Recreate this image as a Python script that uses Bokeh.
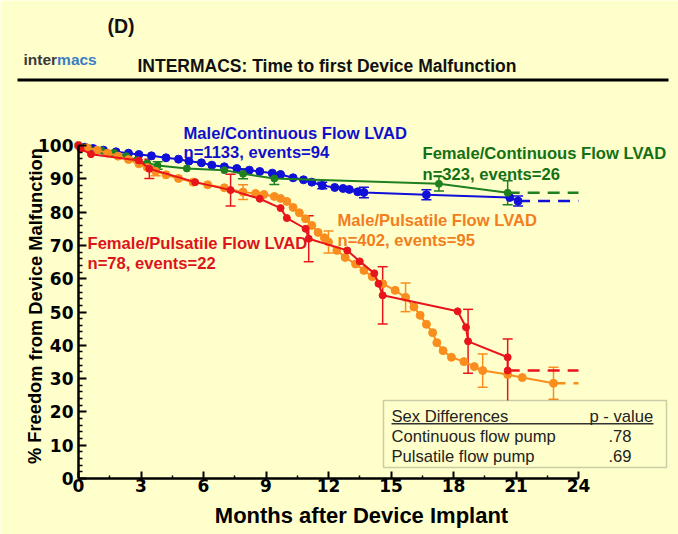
from bokeh.plotting import figure
from bokeh.models import (Range1d, FixedTicker, Label, BoxAnnotation, Whisker,
                          TeeHead, ColumnDataSource)
from bokeh.embed import file_html
from bokeh.resources import INLINE

# ---------------- data ----------------
MONTH_TICKS = [0, 3, 6, 9, 12, 15, 18, 21, 24]
MONTH_MINOR = [1.5, 4.5, 7.5, 10.5, 13.5, 16.5, 19.5, 22.5]
PCT_TICKS = [0, 10, 20, 30, 40, 50, 60, 70, 80, 90, 100]
PCT_MINOR = [v for v in range(0, 101, 2) if v % 10 != 0]

# Male / Continuous Flow LVAD
mc_x = [0, 0.3, 0.7, 1.2, 1.8, 2.4, 2.9, 3.5, 4.2, 4.8, 5.3, 5.9, 6.4, 7.0, 7.6,
        8.2, 8.7, 9.3, 9.7, 10.3, 10.8, 11.2, 11.7, 12.3, 12.7, 13.0, 13.4, 13.7,
        16.7, 20.7, 21.1]
mc_y = [100, 99.5, 99.1, 98.6, 98.1, 97.7, 97.3, 96.9, 96.3, 95.9, 95.3, 94.8, 94.1,
        93.6, 93.1, 92.6, 92.2, 91.7, 91.3, 90.3, 89.7, 89.0, 88.0, 87.4, 87.1, 86.8,
        86.1, 85.9, 85.2, 84.4, 83.3]
mc_err_x = [11.7, 13.7, 16.7, 21.1]
mc_err_y = [88.0, 85.9, 85.2, 83.3]
mc_err_h = [1.0, 1.6, 1.5, 1.5]

# Female / Continuous Flow LVAD
fc_x = [0, 0.5, 1.1, 1.7, 2.3, 2.8, 3.3, 3.8, 5.2, 7.0, 7.9, 9.4, 17.3, 20.6]
fc_y = [100, 99.2, 98.5, 97.8, 96.8, 95.6, 94.7, 94.0, 93.1, 92.6, 91.5, 90.1, 88.5, 85.8]
fc_err_x = [3.8, 7.9, 9.4, 17.3, 20.6]
fc_err_y = [94.0, 91.5, 90.1, 88.5, 85.8]
fc_err_h = [1.1, 1.5, 1.8, 2.2, 3.6]

# Male / Pulsatile Flow LVAD
mp_x = [0, 0.4, 0.9, 1.4, 1.9, 2.4, 2.9, 3.3, 3.7, 4.2, 4.8, 5.5, 6.2, 7.0, 7.9, 8.5,
        8.9, 9.4, 9.7, 10.0, 10.3, 10.6, 10.9, 11.2, 11.5, 11.8, 12.0, 12.4, 12.8,
        13.3, 13.7, 14.1, 14.6, 15.2, 15.7, 16.1, 16.4, 16.7, 17.0, 17.2, 17.5, 17.9,
        18.5, 19.0, 19.4, 20.6, 21.3, 22.8]
mp_y = [100, 99.3, 98.6, 97.7, 96.8, 95.8, 94.5, 93.4, 92.3, 91.2, 90.1, 89.0, 88.2,
        87.3, 86.0, 85.6, 85.3, 84.7, 84.1, 83.2, 81.4, 79.8, 78.0, 76.0, 73.9, 72.3,
        71.0, 68.5, 66.4, 64.4, 62.5, 60.6, 58.5, 56.5, 54.4, 51.5, 49.0, 46.3, 43.8,
        40.8, 38.4, 36.4, 35.1, 33.6, 32.4, 31.2, 30.3, 28.6]
mp_err_x = [3.7, 7.9, 12.0, 15.7, 19.4, 22.8]
mp_err_y = [92.3, 86.0, 71.0, 54.4, 32.4, 28.6]
mp_err_h = [1.4, 2.2, 3.3, 4.3, 5.0, 4.8]

# Female / Pulsatile Flow LVAD
fp_x = [0, 0.1, 0.6, 2.9, 3.4, 5.6, 7.3, 8.7, 9.7, 10.0, 10.9, 11.05, 12.9, 13.5,
        14.2, 14.4, 14.6, 18.2, 18.6, 18.7, 20.6, 20.6]
fp_y = [100, 99.0, 97.4, 95.5, 93.0, 89.0, 86.6, 84.0, 81.2, 78.2, 75.0, 72.0, 68.5,
        65.2, 61.6, 58.5, 55.0, 50.2, 45.4, 41.2, 36.4, 32.4]
fp_err_x = [3.4, 7.3, 11.05, 14.6, 18.7, 20.6]
fp_err_y = [93.0, 86.6, 72.0, 55.0, 41.2, 32.4]
fp_err_h = [2.9, 4.8, 6.9, 8.6, 9.6, 9.5]

FOLLOW_UP_END = 24

SERIES_NAMES = ["Male/Continuous Flow LVAD", "Female/Continuous Flow LVAD",
                "Male/Pulsatile Flow LVAD", "Female/Pulsatile Flow LVAD"]
SERIES_COUNTS = ["n=1133, events=94", "n=323, events=26",
                 "n=402, events=95", "n=78, events=22"]

TABLE_HEADER = ["Sex Differences", "p - value"]
TABLE_ROWS = [("Continuous flow pump", ".78"), ("Pulsatile flow pump", ".69")]

# ---------------- styling ----------------
BG = "#FFFFCC"
BLUE, GREEN, ORANGE, RED = "#1010d8", "#1f801f", "#f98e1e", "#e8141c"
LBL_BLUE, LBL_GREEN, LBL_ORANGE, LBL_RED = "#1010cc", "#137013", "#f27e1e", "#dc141c"
FONT = "Liberation Sans"

W, H = 678, 534
PX_PER_MONTH = 500 / 24
PX_PER_PCT = 3.33
AX_X0, AX_Y0 = 78, 478      # pixel position of month 0 / 0 %
SHIFT = 5                   # svg baseline compensation


def dx(px):
    return (px - AX_X0) / PX_PER_MONTH


def dy(py):
    return (AX_Y0 - py) / PX_PER_PCT


p = figure(width=W, height=H, output_backend="svg", toolbar_location=None,
           x_range=Range1d(dx(0), dx(W)), y_range=Range1d(dy(H), dy(0)),
           min_border_left=0, min_border_right=0, min_border_top=0,
           min_border_bottom=0)
p.background_fill_color = BG
p.border_fill_color = BG
p.outline_line_color = None
p.xgrid.visible = False
p.ygrid.visible = False

for ax, ticks, minor, bnds in ((p.xaxis[0], MONTH_TICKS, MONTH_MINOR, (0, 24)),
                               (p.yaxis[0], PCT_TICKS, PCT_MINOR, (0, 100))):
    ax.ticker = FixedTicker(ticks=ticks, minor_ticks=minor)
    ax.bounds = bnds
    ax.fixed_location = 0
    ax.axis_line_width = 2.5
    ax.axis_line_color = "black"
    ax.major_tick_line_width = 2
    ax.minor_tick_line_width = 1.5
    ax.major_tick_out = 0
    ax.minor_tick_out = 0
    ax.major_label_text_font = "DejaVu Sans"
    ax.major_label_text_font_style = "bold"
    ax.major_label_text_font_size = "17px"
    ax.major_label_text_color = "black"

p.xaxis[0].major_tick_in = 7
p.xaxis[0].minor_tick_in = 3
p.xaxis[0].major_label_standoff = 0
p.yaxis[0].major_tick_in = 8
p.yaxis[0].minor_tick_in = 4
p.yaxis[0].major_label_standoff = 5

series = [
    (mc_x, mc_y, mc_err_x, mc_err_y, mc_err_h, BLUE, 8),
    (fc_x, fc_y, fc_err_x, fc_err_y, fc_err_h, GREEN, 7),
    (mp_x, mp_y, mp_err_x, mp_err_y, mp_err_h, ORANGE, 8),
    (fp_x, fp_y, fp_err_x, fp_err_y, fp_err_h, RED, 7),
]

for xs, ys, ex, ey, eh, col, sz in series:
    p.line([xs[-1], FOLLOW_UP_END], [ys[-1], ys[-1]], line_color=col,
           line_width=2.5, line_dash="12 8")
    p.line(xs, ys, line_color=col, line_width=2)
    p.scatter(xs, ys, size=sz, fill_color=col, line_color=col)
    src = ColumnDataSource(dict(x=ex,
                                upper=[a + b for a, b in zip(ey, eh)],
                                lower=[a - b for a, b in zip(ey, eh)]))
    p.add_layout(Whisker(source=src, base="x", upper="upper", lower="lower",
                         dimension="height", line_color=col, line_width=1.5,
                         upper_head=TeeHead(size=10, line_color=col, line_width=1.5),
                         lower_head=TeeHead(size=10, line_color=col, line_width=1.5)))


def label(px, py, text, color="black", size="16px", style="bold", align="left",
          angle=0, font=FONT):
    """px, py: pixel position of the text baseline start (reference picture)."""
    if angle:
        x, y = dx(px - SHIFT), dy(py)
    else:
        x, y = dx(px), dy(py - SHIFT)
    p.add_layout(Label(x=x, y=y, text=text, text_color=color, text_font=font,
                       text_font_size=size, text_font_style=style,
                       text_align=align, text_baseline="alphabetic", angle=angle))


# series labels
LS = "16.6px"
label(183, 138, SERIES_NAMES[0], LBL_BLUE, size=LS)
label(183, 157, SERIES_COUNTS[0], LBL_BLUE, size=LS)
label(422, 158, SERIES_NAMES[1], LBL_GREEN, size=LS)
label(422, 179, SERIES_COUNTS[1], LBL_GREEN, size=LS)
label(337, 225, SERIES_NAMES[2], LBL_ORANGE, size=LS)
label(337, 245, SERIES_COUNTS[2], LBL_ORANGE, size=LS)
label(87, 248, SERIES_NAMES[3], LBL_RED, size=LS)
label(87, 268, SERIES_COUNTS[3], LBL_RED, size=LS)

# p-value table
TS = "16.6px"
p.add_layout(BoxAnnotation(left=dx(383), right=dx(666), top=dy(400), bottom=dy(467),
                           fill_color=BG, fill_alpha=1, line_color="#555555",
                           line_width=1.5))
p.add_layout(BoxAnnotation(left=dx(391), right=dx(653), top=dy(422.5), bottom=dy(424),
                           fill_color="#333333", fill_alpha=1, line_color=None))
label(391, 420.5, TABLE_HEADER[0], "#222222", size=TS, style="normal")
label(589, 420.5, TABLE_HEADER[1], "#222222", size=TS, style="normal")
for i, (name, pv) in enumerate(TABLE_ROWS):
    label(391, 440.5 + 20 * i, name, "#222222", size=TS, style="normal")
    label(608, 440.5 + 20 * i, pv, "#222222", size=TS, style="normal")

# axis titles
label(361, 520, "Months after Device Implant", "black", size="22px", align="center")
label(39.5, 303, "% Freedom  from Device Malfunction", "black", size="18.3px",
      align="center", angle=1.5707963)

# header
label(107, 30, "(D)", "#111111", size="19.5px")
label(23, 64, "inter", "#3a3a3a", size="15.5px")
label(56.6, 64, "macs", "#3b7dc4", size="15.5px")
label(137, 70, "INTERMACS: Time to first Device Malfunction", "#111111",
      size="17.5px")
p.add_layout(BoxAnnotation(left=dx(17), right=dx(668), top=dy(78), bottom=dy(81),
                           fill_color="black", fill_alpha=1, line_color=None))

open("out.html", "w").write(file_html(p, INLINE))
